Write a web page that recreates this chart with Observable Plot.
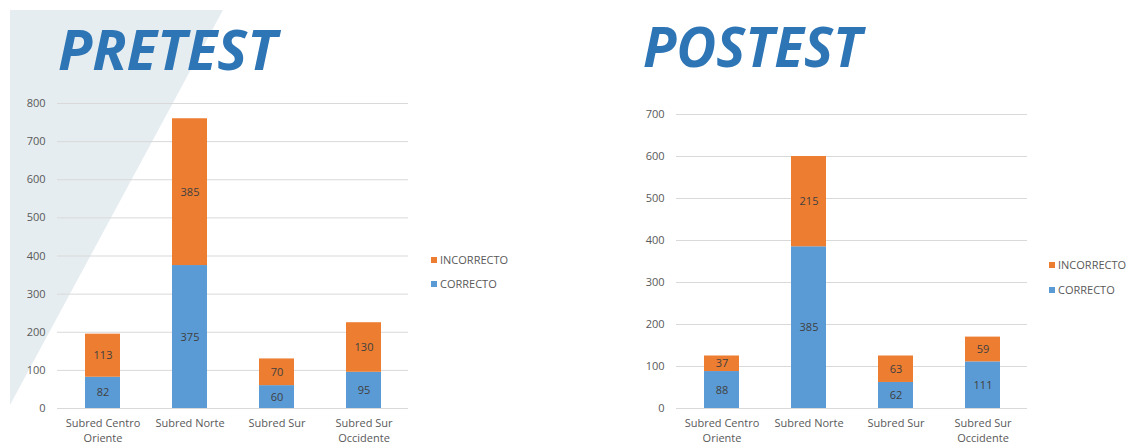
<!DOCTYPE html>
<html>
<head>
<meta charset="utf-8">
<script src="https://cdn.jsdelivr.net/npm/d3@7"></script>
<script src="https://cdn.jsdelivr.net/npm/@observablehq/plot@0.6"></script>
<style>
  html, body { margin: 0; padding: 0; background: #fff; }
  #root { position: relative; width: 1136px; height: 445px; overflow: hidden; background: #fff; font-family: "Open Sans", sans-serif; }
  .tri { position: absolute; left: 10px; top: 10px; width: 213px; height: 395px; background: #E6EDF0; clip-path: polygon(0 0, 100% 0, 0 100%); }
  .chart { position: absolute; top: 0; overflow: visible; }
  .title { position: absolute; top: 0; }
  .legend { position: absolute; font-size: 11px; color: #595959; }
  .legend .item { position: absolute; white-space: nowrap; line-height: 14px; }
  .legend .sw { display: inline-block; width: 6px; height: 6px; margin-right: 3px; vertical-align: 1px; }
</style>
</head>
<body>
<div id="root">
  <div class="tri"></div>
</div>
<script>
// ---- data ----
const categories = ["Subred Centro Oriente", "Subred Norte", "Subred Sur", "Subred Sur Occidente"];
const categoryLabels = ["Subred Centro\nOriente", "Subred Norte", "Subred Sur", "Subred Sur\nOccidente"];
const seriesNames = ["CORRECTO", "INCORRECTO"];
const seriesColors = ["#5B9BD5", "#ED7D31"];
const pretestCorrecto = [82, 375, 60, 95];
const pretestIncorrecto = [113, 385, 70, 130];
const postestCorrecto = [88, 385, 62, 111];
const postestIncorrecto = [37, 215, 63, 59];
const pretestTicks = [0, 100, 200, 300, 400, 500, 600, 700, 800];
const postestTicks = [0, 100, 200, 300, 400, 500, 600, 700];
const titles = ["PRETEST", "POSTEST"];

function rows(correcto, incorrecto) {
  const out = [];
  categories.forEach((c, i) => out.push({cat: c, serie: seriesNames[0], value: correcto[i]}));
  categories.forEach((c, i) => out.push({cat: c, serie: seriesNames[1], value: incorrecto[i]}));
  return out;
}

function chart(data, ticks, marginLeft, marginRight, marginTop) {
  const labelOf = new Map(categories.map((c, i) => [c, categoryLabels[i]]));
  return Plot.plot({
    width: 568,
    height: 445,
    marginLeft, marginRight, marginTop,
    marginBottom: 37,
    style: {background: "transparent", fontFamily: "Open Sans, sans-serif", fontSize: "11px", color: "#595959", overflow: "visible"},
    x: {domain: categories, paddingInner: 0.6, paddingOuter: 0.3, label: null},
    y: {domain: [ticks[0], ticks[ticks.length - 1]], label: null},
    color: {domain: seriesNames, range: seriesColors},
    marks: [
      Plot.ruleY(ticks, {stroke: "#D9D9D9", strokeWidth: 1}),
      Plot.barY(data, Plot.stackY({x: "cat", y: "value", fill: "serie", z: "serie", order: null})),
      Plot.text(data, Plot.stackY({x: "cat", y: "value", z: "serie", text: d => String(d.value), fill: "#404040", fontSize: 11, order: null})),
      Plot.axisY({ticks, tickSize: 0, tickPadding: 12, fontSize: 11, fill: "#595959", label: null}),
      Plot.axisX({tickSize: 0, tickPadding: 7, fontSize: 11, fill: "#595959", lineHeight: 1.42, tickFormat: d => labelOf.get(d), label: null})
    ]
  });
}

const root = document.getElementById("root");

const c1 = chart(rows(pretestCorrecto, pretestIncorrecto), pretestTicks, 57, 160, 103);
c1.classList.add("chart"); c1.style.left = "0px";
root.appendChild(c1);

const c2 = chart(rows(postestCorrecto, postestIncorrecto), postestTicks, 108, 109, 114);
c2.classList.add("chart"); c2.style.left = "568px";
root.appendChild(c2);

// titles
function title(text, x, baseline, width) {
  const ns = "http://www.w3.org/2000/svg";
  const svg = document.createElementNS(ns, "svg");
  svg.setAttribute("width", 400); svg.setAttribute("height", 90);
  svg.setAttribute("class", "title");
  svg.style.left = "0px";
  const t = document.createElementNS(ns, "text");
  t.setAttribute("x", x); t.setAttribute("y", baseline);
  t.setAttribute("font-family", "Open Sans, sans-serif");
  t.setAttribute("font-weight", "bold");
  t.setAttribute("font-style", "italic");
  t.setAttribute("font-size", "55");
  t.setAttribute("fill", "#2E75B6");
  t.setAttribute("textLength", width);
  t.setAttribute("lengthAdjust", "spacingAndGlyphs");
  t.textContent = text;
  svg.appendChild(t);
  return svg;
}
const t1 = title(titles[0], 58, 70, 219);
root.appendChild(t1);
const t2 = title(titles[1], 43, 67, 219);
t2.style.left = "600px";
root.appendChild(t2);

// legends
function legend(left, topInc, topCor) {
  const lg = document.createElement("div");
  lg.className = "legend";
  lg.style.left = left + "px"; lg.style.top = "0px";
  [[seriesNames[1], seriesColors[1], topInc], [seriesNames[0], seriesColors[0], topCor]].forEach(([name, col, top]) => {
    const it = document.createElement("div");
    it.className = "item";
    it.style.top = (top - 7) + "px";
    const sw = document.createElement("span");
    sw.className = "sw"; sw.style.background = col;
    it.appendChild(sw);
    it.appendChild(document.createTextNode(name));
    lg.appendChild(it);
  });
  root.appendChild(lg);
}
legend(431, 260, 284);
legend(1049, 265, 290);
</script>
</body>
</html>
